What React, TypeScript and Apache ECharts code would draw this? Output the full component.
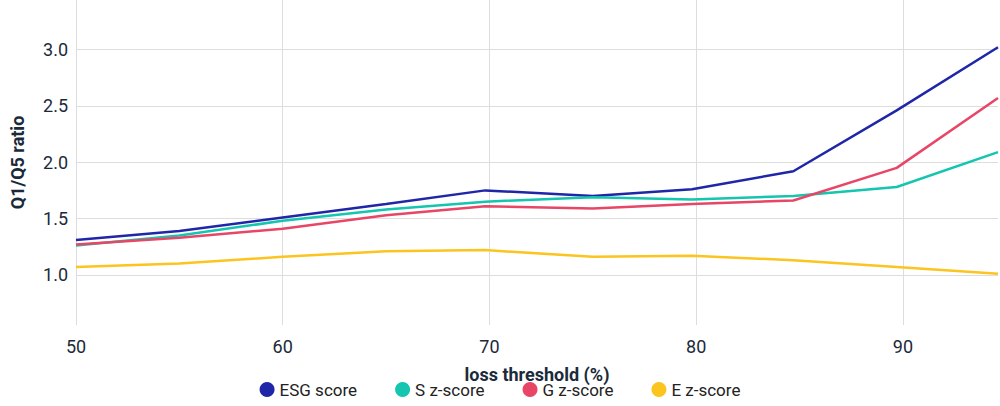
import React, { useEffect, useRef } from "react";
import * as echarts from "echarts";

const xs = [50, 55, 60, 65, 69.8, 75, 79.8, 84.7, 89.7, 94.6];
const esg = [1.31, 1.39, 1.51, 1.63, 1.75, 1.7, 1.76, 1.92, 2.46, 3.02];
const sz = [1.26, 1.35, 1.48, 1.58, 1.65, 1.69, 1.67, 1.7, 1.78, 2.09];
const gz = [1.27, 1.33, 1.41, 1.53, 1.61, 1.59, 1.63, 1.66, 1.95, 2.57];
const ez = [1.07, 1.1, 1.16, 1.21, 1.22, 1.16, 1.17, 1.13, 1.07, 1.01];
const yTicks = [1.0, 1.5, 2.0, 2.5, 3.0];
const xTicks = [50, 60, 70, 80, 90];

const names = ["ESG score", "S z-score", "G z-score", "E z-score"];
const colors = ["#1f26a8", "#14c5b0", "#e84666", "#fcc41f"];

export default function App() {
  const ref = useRef<HTMLDivElement>(null);
  useEffect(() => {
    const chart = echarts.init(ref.current!, null, { renderer: "svg" });
    const data = [esg, sz, gz, ez];
    chart.setOption({
      animation: false,
      textStyle: { fontFamily: "Roboto" },
      grid: { left: 70, right: 2, top: 0, bottom: 81 },
      legend: {
        bottom: 3,
        icon: "circle",
        itemWidth: 15,
        itemHeight: 15,
        itemGap: 38,
        textStyle: { fontSize: 17, color: "#222" },
        data: names,
      },
      xAxis: {
        type: "value",
        min: 50,
        max: 94.6,
        name: "loss threshold (%)",
        nameLocation: "middle",
        nameGap: 40,
        nameTextStyle: { fontSize: 18, fontWeight: "bold", color: "#1b2a3a" },
        axisLine: { show: false },
        axisTick: { show: false, customValues: xTicks },
        axisLabel: { customValues: xTicks, fontSize: 18, color: "#1b2a3a", margin: 12 },
        splitLine: { show: true, lineStyle: { color: "#ddd" } },
      },
      yAxis: {
        type: "value",
        min: 0.555,
        max: 3.44,
        name: "Q1/Q5 ratio",
        nameLocation: "middle",
        nameGap: 50,
        nameTextStyle: { fontSize: 18, fontWeight: "bold", color: "#1b2a3a" },
        axisLine: { show: false },
        axisTick: { show: false, customValues: yTicks },
        axisLabel: { customValues: yTicks, fontSize: 18, color: "#1b2a3a", formatter: (v: number) => v.toFixed(1) },
        splitLine: { show: true, lineStyle: { color: "#ddd" } },
      },
      series: names.map((n, i) => ({
        name: n,
        type: "line",
        showSymbol: false,
        symbol: "circle",
        color: colors[i],
        lineStyle: { width: 2.5, color: colors[i] },
        data: xs.map((x, j) => [x, data[i][j]]),
      })),
    });
    return () => chart.dispose();
  }, []);
  return <div ref={ref} style={{ position: "absolute", left: 0, top: 0, width: 1000, height: 406 }} />;
}
